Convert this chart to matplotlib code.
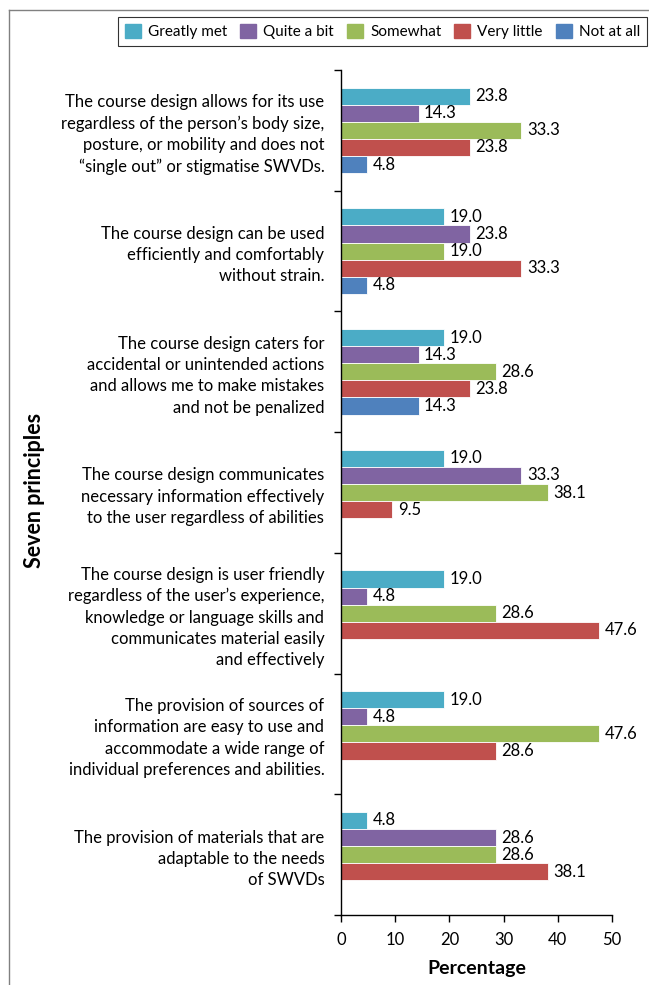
import numpy as np
import matplotlib
matplotlib.use("Agg")
import matplotlib.pyplot as plt
from matplotlib.lines import Line2D

plt.rcParams['font.family'] = ['Lato', 'DejaVu Sans']

# principles, top to bottom
principles = [
    "The course design allows for its use\nregardless of the person\u2019s body size,\nposture, or mobility and does not\n\u201csingle out\u201d or stigmatise SWVDs.",
    "The course design can be used\nefficiently and comfortably\nwithout strain.",
    "The course design caters for\naccidental or unintended actions\nand allows me to make mistakes\nand not be penalized",
    "The course design communicates\nnecessary information effectively\nto the user regardless of abilities",
    "The course design is user friendly\nregardless of the user\u2019s experience,\nknowledge or language skills and\ncommunicates material easily\nand effectively",
    "The provision of sources of\ninformation are easy to use and\naccommodate a wide range of\nindividual preferences and abilities.",
    "The provision of materials that are\nadaptable to the needs\nof SWVDs",
]
series_names = ["Greatly met", "Quite a bit", "Somewhat", "Very little", "Not at all"]
greatly_met = [23.8, 19.0, 19.0, 19.0, 19.0, 19.0, 4.8]
quite_a_bit = [14.3, 23.8, 14.3, 33.3, 4.8, 4.8, 28.6]
somewhat = [33.3, 19.0, 28.6, 38.1, 28.6, 47.6, 28.6]
very_little = [23.8, 33.3, 23.8, 9.5, 47.6, 28.6, 38.1]
not_at_all = [4.8, 4.8, 14.3, None, None, None, None]
colors = ["#4BACC6", "#8064A2", "#9BBB59", "#C0504D", "#4F81BD"]

fig = plt.figure(figsize=(6.49, 9.85), dpi=100)
ax = fig.add_axes([341/649, 1-915/985, (612-341)/649, (915-70)/985])

n = len(principles)
centers = n - 0.5 - np.arange(n)
bh = 0.142
all_series = [greatly_met, quite_a_bit, somewhat, very_little, not_at_all]
for j, (vals, name, col) in enumerate(zip(all_series, series_names, colors)):
    ys = centers - (j - 2) * bh
    for y, v in zip(ys, vals):
        if v is None:
            continue
        ax.barh(y, v, height=bh, color=col, edgecolor="white", linewidth=0.6)
        ax.text(v + 1.0, y, "%.1f" % v, va="center", ha="left", fontsize=12)

ax.set_xlim(0, 50)
ax.set_ylim(0, n)
ax.set_xticks(range(0, 51, 10))
ax.tick_params(axis="x", labelsize=12, length=5, direction="out", width=1, pad=7)
ax.set_yticks(range(0, n + 1))
ax.set_yticklabels([])
ax.tick_params(axis="y", length=5, direction="out", width=1)
ax.set_yticks(centers, minor=True)
ax.set_yticklabels(principles, minor=True, fontsize=12, ha="right", linespacing=1.4)
ax.tick_params(axis="y", which="minor", length=0, pad=12)
for s in ["top", "right"]:
    ax.spines[s].set_visible(False)
for s in ["left", "bottom"]:
    ax.spines[s].set_linewidth(1)
ax.set_xlabel("Percentage", fontsize=14, fontweight="bold", labelpad=9)

fig.text(35/649, 1-490/985, "Seven principles", rotation=90, fontsize=15.5,
         fontweight="bold", ha="center", va="center")

handles = [plt.Rectangle((0, 0), 1, 1, color=c) for c in colors]
leg = fig.legend(handles, series_names, loc="upper right", ncol=5,
                 bbox_to_anchor=(647/649, 1-17/985), fontsize=11, frameon=True,
                 fancybox=False, edgecolor="black", handlelength=1.05,
                 handleheight=1.05, columnspacing=0.85, handletextpad=0.46,
                 borderpad=0.45, borderaxespad=0)
leg.get_frame().set_linewidth(0.8)

# outer frame (cut off at right and bottom)
fig.add_artist(Line2D([9/649, 1], [1-10/985, 1-10/985], color="#808080", lw=1))
fig.add_artist(Line2D([9/649, 9/649], [0, 1-10/985], color="#808080", lw=1))

fig.savefig("out.png", dpi=100)
